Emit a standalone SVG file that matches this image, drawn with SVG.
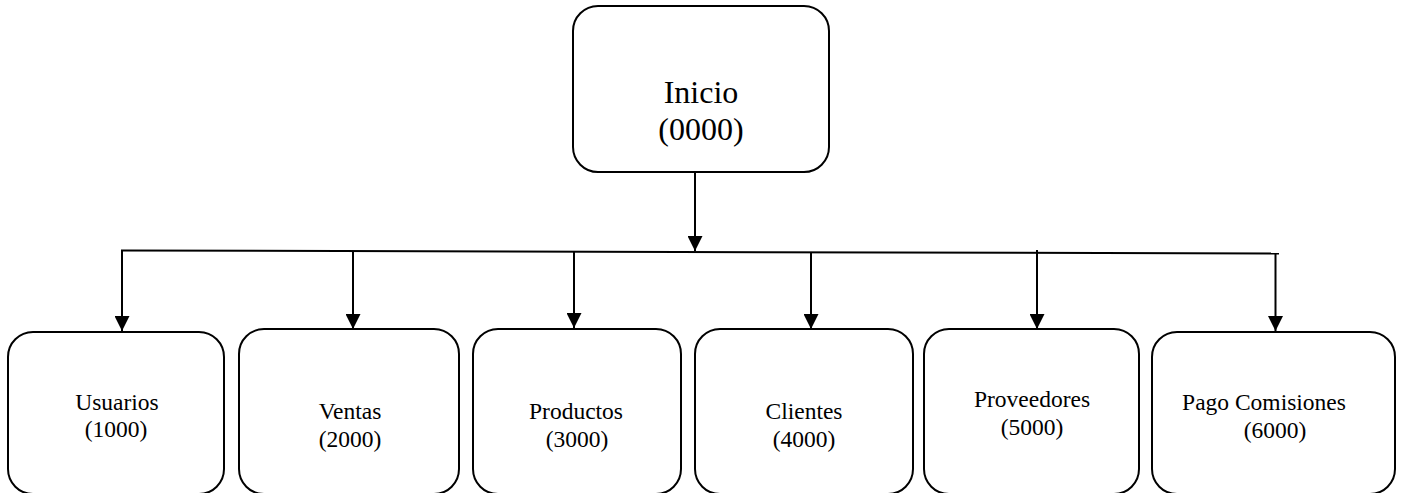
<svg xmlns="http://www.w3.org/2000/svg" width="1403" height="493" viewBox="0 0 1403 493">
  <style>
    .box { fill: #ffffff; stroke: #000000; stroke-width: 2; }
    .wire { fill: none; stroke: #000000; stroke-width: 2; }
  </style>
  <defs>
    <marker id="arrow" markerUnits="userSpaceOnUse" markerWidth="16" markerHeight="15" refX="15" refY="7.5" orient="auto">
      <path d="M0,0 L15,7.5 L0,15 z" fill="#000000"/>
    </marker>
  </defs>
  <rect width="1403" height="493" fill="#ffffff"/>

  <!-- connectors -->
  <g id="connectors">
    <line class="wire" x1="695" y1="172" x2="695" y2="251" marker-end="url(#arrow)"/>
    <line class="wire" x1="121" y1="250.5" x2="1279" y2="253.5"/>
    <line class="wire" x1="122" y1="250" x2="122" y2="331" marker-end="url(#arrow)"/>
    <line class="wire" x1="353" y1="251" x2="353" y2="329" marker-end="url(#arrow)"/>
    <line class="wire" x1="574" y1="252" x2="574" y2="328" marker-end="url(#arrow)"/>
    <line class="wire" x1="811" y1="252" x2="811" y2="329" marker-end="url(#arrow)"/>
    <line class="wire" x1="1037" y1="250" x2="1037" y2="329" marker-end="url(#arrow)"/>
    <line class="wire" x1="1275.5" y1="253" x2="1275.5" y2="331" marker-end="url(#arrow)"/>
  </g>

  <!-- root node -->
  <g id="inicio" font-family="Liberation Serif" font-size="32" text-anchor="middle" fill="#000000">
    <rect class="box" x="573" y="6" width="256" height="166" rx="25" ry="25"/>
    <text x="701" y="103">Inicio</text>
    <text x="701" y="140">(0000)</text>
  </g>

  <!-- module nodes -->
  <g font-family="Liberation Serif" font-size="23.5" text-anchor="middle" fill="#000000">
    <g id="usuarios">
      <rect class="box" x="8" y="332" width="216" height="162" rx="25" ry="25"/>
      <text x="117" y="410">Usuarios</text>
      <text x="116" y="437">(1000)</text>
    </g>
    <g id="ventas">
      <rect class="box" x="239" y="329" width="220" height="165" rx="25" ry="25"/>
      <text x="350" y="419">Ventas</text>
      <text x="350" y="447">(2000)</text>
    </g>
    <g id="productos">
      <rect class="box" x="473" y="329" width="208" height="165" rx="25" ry="25"/>
      <text x="576" y="419">Productos</text>
      <text x="577" y="447">(3000)</text>
    </g>
    <g id="clientes">
      <rect class="box" x="695" y="329" width="218" height="165" rx="25" ry="25"/>
      <text x="804" y="419">Clientes</text>
      <text x="804" y="447">(4000)</text>
    </g>
    <g id="proveedores">
      <rect class="box" x="924" y="329" width="215" height="165" rx="25" ry="25"/>
      <text x="1032" y="407">Proveedores</text>
      <text x="1032" y="435">(5000)</text>
    </g>
    <g id="pago-comisiones">
      <rect class="box" x="1152" y="332" width="243" height="162" rx="25" ry="25"/>
      <text x="1264" y="410">Pago Comisiones</text>
      <text x="1275" y="438">(6000)</text>
    </g>
  </g>
</svg>
